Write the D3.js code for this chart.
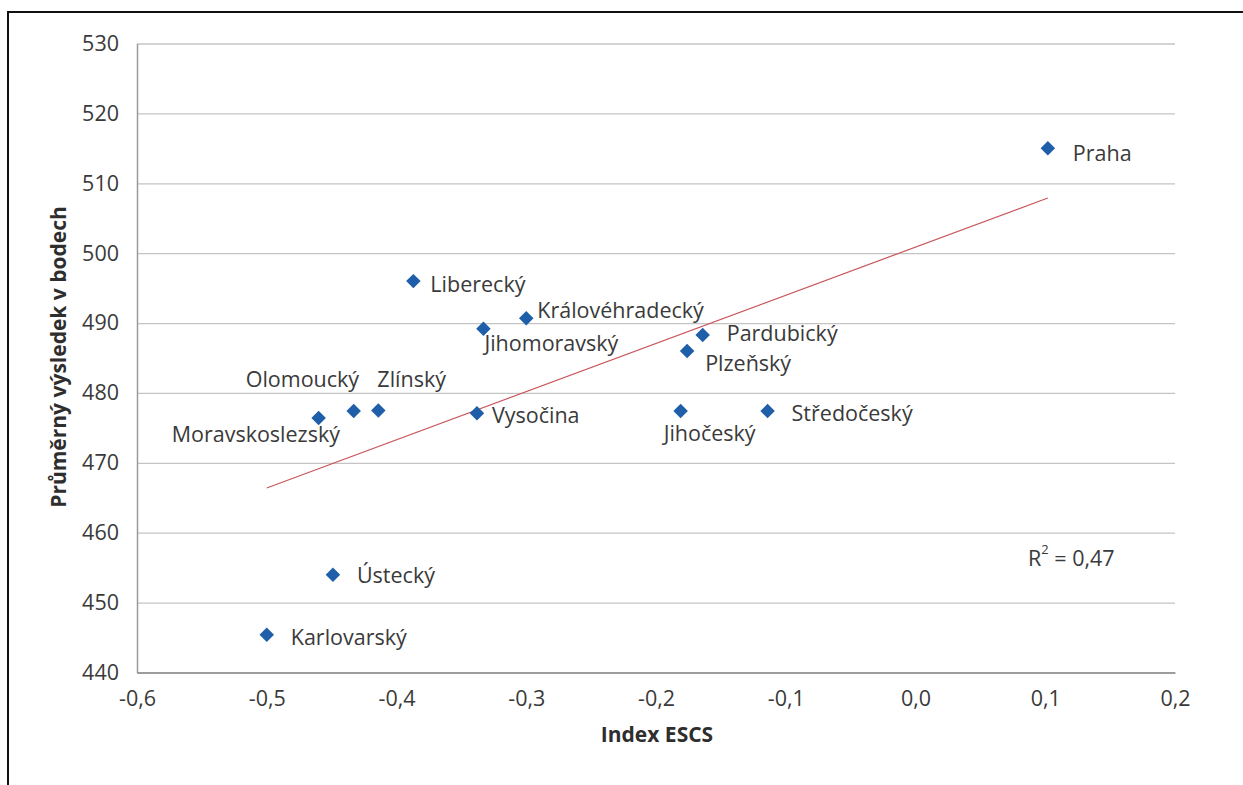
<!DOCTYPE html>
<html>
<head>
<meta charset="utf-8">
<script src="https://cdn.jsdelivr.net/npm/d3@7"></script>
<style>
  html, body { margin: 0; padding: 0; background: #fff; }
  svg { display: block; }
  text { font-family: "Open Sans", "Noto Sans", sans-serif; }
</style>
</head>
<body>
<svg id="chart" width="1243" height="785"></svg>
<script>
// ---- data ----
const regions = ["Praha", "Liberecký", "Královéhradecký", "Jihomoravský", "Pardubický", "Plzeňský",
  "Olomoucký", "Zlínský", "Moravskoslezský", "Vysočina", "Jihočeský", "Středočeský", "Ústecký", "Karlovarský"];
const escs = [0.102, -0.387, -0.30, -0.333, -0.164, -0.176, -0.433, -0.414, -0.460, -0.338, -0.181, -0.114, -0.449, -0.50];
const scores = [515.0, 496.0, 490.7, 489.2, 488.3, 486.0, 477.4, 477.5, 476.4, 477.1, 477.4, 477.4, 454.0, 445.4];
const trendX = [-0.5, 0.102];
const trendY = [466.4, 507.9];
const xTicks = [-0.6, -0.5, -0.4, -0.3, -0.2, -0.1, 0.0, 0.1, 0.2];
const yTicks = [440, 450, 460, 470, 480, 490, 500, 510, 520, 530];
const xTitle = "Index ESCS";
const yTitle = "Průměrný výsledek v bodech";
const rSquared = "0,47";

// ---- label layout (pixel offsets from marker: left edge dx, vertical centre dy) ----
const labelOffsets = [[25, 4], [17, 2], [11, -9], [1, 14], [24, -2], [18, 11],
  [-108, -33], [-1, -32], [-147, 15], [15, 1], [-17, 21], [24, 1], [24, 0], [24, 2]];

// ---- chart ----
const svg = d3.select("#chart");
const pLeft = 137, pRight = 1175, pTop = 43.5, pBottom = 672.5;

const x = d3.scaleLinear().domain([-0.6, 0.2]).range([pLeft, pRight]);
const y = d3.scaleLinear().domain([440, 530]).range([pBottom, pTop]);

const cz = d3.formatLocale({ decimal: ",", thousands: " ", grouping: [3], currency: ["", " Kč"], minus: "-" });
const fmt1 = cz.format(".1f");
const textColor = "#3a3a3a";

// frame
svg.append("path")
  .attr("d", "M8,785 L8,12 L1243,12")
  .attr("fill", "none").attr("stroke", "#111").attr("stroke-width", 2);

// gridlines
const grid = svg.append("g").attr("transform", `translate(${pLeft},0)`)
  .call(d3.axisLeft(y).tickValues(yTicks).tickSize(-(pRight - pLeft)).tickFormat(""));
grid.select(".domain").remove();
grid.selectAll("line").attr("stroke", "#c4c4c4").attr("stroke-width", 1.3);

// y axis
const yAxis = svg.append("g").attr("transform", `translate(${pLeft},0)`)
  .call(d3.axisLeft(y).tickValues(yTicks).tickSize(0).tickPadding(18).tickFormat(d3.format("d")));
yAxis.select(".domain").attr("stroke", "#9a9a9a").attr("stroke-width", 1.5);
yAxis.selectAll("text").attr("font-size", 21.5).attr("fill", textColor)
  .attr("font-family", "'Open Sans', sans-serif");

// x axis
const xAxis = svg.append("g").attr("transform", `translate(0,${pBottom})`)
  .call(d3.axisBottom(x).tickValues(xTicks).tickSize(0).tickPadding(18).tickFormat(fmt1));
xAxis.select(".domain").attr("stroke", "#8a8a8a").attr("stroke-width", 1.6);
xAxis.selectAll("text").attr("font-size", 21.5).attr("fill", textColor)
  .attr("font-family", "'Open Sans', sans-serif");

// titles
svg.append("text")
  .attr("x", (pLeft + pRight) / 2 + 1).attr("y", 742)
  .attr("text-anchor", "middle").attr("font-size", 21).attr("font-weight", "bold")
  .attr("fill", "#2e2e2e").text(xTitle);

svg.append("text")
  .attr("transform", `translate(66,357) rotate(-90)`)
  .attr("text-anchor", "middle").attr("font-size", 21).attr("font-weight", "bold")
  .attr("fill", "#2e2e2e").text(yTitle);

// trend line
svg.append("path")
  .datum(d3.zip(trendX, trendY))
  .attr("d", d3.line().x(d => x(d[0])).y(d => y(d[1])))
  .attr("fill", "none").attr("stroke", "#c8555a").attr("stroke-width", 1.2);

// points
const pts = regions.map((r, i) => ({ name: r, ex: escs[i], sc: scores[i], off: labelOffsets[i] }));
const diamond = d3.symbol().type(d3.symbolSquare).size(105);

svg.append("g").selectAll("path").data(pts).join("path")
  .attr("d", diamond)
  .attr("transform", d => `translate(${x(d.ex)},${y(d.sc)}) rotate(45)`)
  .attr("fill", "#1f5ea8");

svg.append("g").selectAll("text").data(pts).join("text")
  .attr("x", d => x(d.ex) + d.off[0])
  .attr("y", d => y(d.sc) + d.off[1])
  .attr("dominant-baseline", "central")
  .attr("font-size", 21.5).attr("fill", textColor)
  .text(d => d.name);

// R² annotation
const rt = svg.append("text")
  .attr("x", 1028).attr("y", 557)
  .attr("dominant-baseline", "central")
  .attr("font-size", 21.5).attr("fill", textColor);
rt.append("tspan").text("R");
rt.append("tspan").attr("font-size", 13).attr("dy", -8).text("2");
rt.append("tspan").attr("dy", 8).text(" = " + rSquared);
</script>
</body>
</html>
